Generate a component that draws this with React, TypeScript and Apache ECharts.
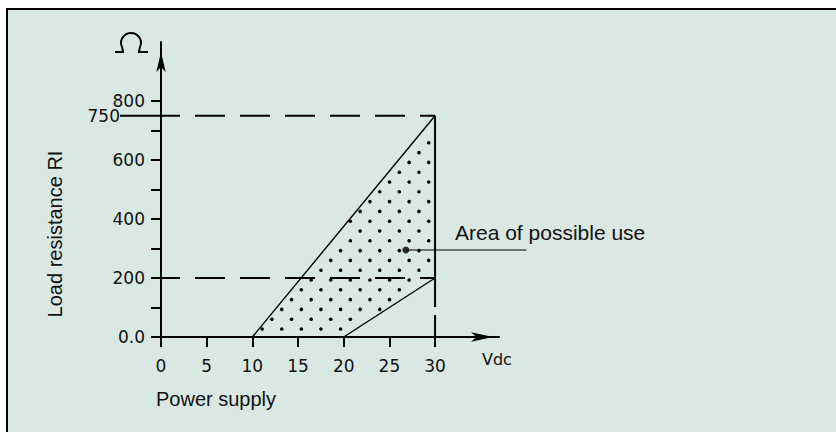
import { useEffect, useRef } from "react";
import * as echarts from "echarts";

// ---- data ----
const xTickValues = [0, 5, 10, 15, 20, 25, 30];
const yTickValues = [0, 100, 200, 300, 400, 500, 600, 700, 800];
const yLabelValues = [0, 200, 400, 600, 800];
const upperX = [10, 30];
const upperY = [0, 750];
const lowerX = [20, 30];
const lowerY = [0, 200];
const regionX = [10, 30, 30, 20];
const regionY = [0, 750, 200, 0];
const limitHigh = 750;
const limitLow = 200;
const supplyMax = 30;
const pointerX = [26.8, 40];
const pointerY = [295, 295];
const highLabel = "750";

const NUM_FONT = "DejaVu Sans";
const TXT_FONT = "Liberation Sans";

function insidePoly(x: number, y: number, pts: number[][]) {
  let c = false;
  for (let i = 0, j = pts.length - 1; i < pts.length; j = i++) {
    const [xi, yi] = pts[i];
    const [xj, yj] = pts[j];
    if (yi > y !== yj > y && x < ((xj - xi) * (y - yi)) / (yj - yi) + xi) c = !c;
  }
  return c;
}
function edgeDist(x: number, y: number, pts: number[][]) {
  let d = Infinity;
  for (let i = 0; i < pts.length; i++) {
    const a = pts[i];
    const b = pts[(i + 1) % pts.length];
    const dx = b[0] - a[0];
    const dy = b[1] - a[1];
    const l2 = dx * dx + dy * dy;
    let t = l2 ? ((x - a[0]) * dx + (y - a[1]) * dy) / l2 : 0;
    t = Math.max(0, Math.min(1, t));
    const px = a[0] + t * dx - x;
    const py = a[1] + t * dy - y;
    d = Math.min(d, Math.sqrt(px * px + py * py));
  }
  return d;
}

export default function App() {
  const ref = useRef<HTMLDivElement>(null);
  useEffect(() => {
    if (!ref.current) return;
    const chart = echarts.init(ref.current, undefined, { renderer: "svg" });
    const lineBlack = (w: number, type: any = "solid", dashOffset = 0) => ({
      color: "#000",
      width: w,
      type,
      dashOffset,
    });
    const seg = (xs: number[], ys: number[], style: any, extra: any = {}) => ({
      type: "line",
      data: xs.map((x, i) => [x, ys[i]]),
      symbol: "none",
      lineStyle: style,
      silent: true,
      z: 3,
      ...extra,
    });
    chart.setOption({
      animation: false,
      backgroundColor: "transparent",
      grid: { left: 161, right: 337, top: 42, bottom: 95, outerBoundsMode: "none" },
      xAxis: {
        type: "value",
        min: 0,
        max: 37,
        interval: 5,
        axisLine: {
          show: true,
          lineStyle: { color: "#000", width: 2 },
          symbol: ["none", "arrow"],
          symbolSize: [7, 22],
          symbolOffset: [0, -6],
        },
        axisTick: {
          show: true,
          length: 10,
          lineStyle: { color: "#000", width: 2 },
          customValues: xTickValues,
        },
        axisLabel: {
          customValues: xTickValues,
          color: "#111",
          fontFamily: NUM_FONT,
          fontSize: 17,
          margin: 20,
        },
        splitLine: { show: false },
      },
      yAxis: {
        type: "value",
        min: 0,
        max: 1000,
        interval: 100,
        axisLine: {
          show: true,
          lineStyle: { color: "#000", width: 2 },
          symbol: ["none", "arrow"],
          symbolSize: [7, 20],
          symbolOffset: [0, -10],
        },
        axisTick: {
          show: true,
          length: 10,
          lineStyle: { color: "#000", width: 2 },
          customValues: yTickValues,
        },
        axisLabel: {
          customValues: yLabelValues,
          formatter: (v: number) => (v === 0 ? "0.0" : String(v)),
          color: "#111",
          fontFamily: NUM_FONT,
          fontSize: 17,
          margin: 16,
        },
        splitLine: { show: false },
      },
      series: [
        {
          type: "custom",
          data: [[0, 0]],
          silent: true,
          z: 2,
          renderItem: (_p: any, api: any) => {
            const pts = regionX.map((x, i) => api.coord([x, regionY[i]]));
            const base = pts[0];
            const xs = pts.map((p: number[]) => p[0]);
            const ys = pts.map((p: number[]) => p[1]);
            const minX = Math.min(...xs);
            const maxX = Math.max(...xs);
            const minY = Math.min(...ys);
            const children: any[] = [];
            for (let k = 0; k < 200; k++) {
              const y = base[1] - 8 - 9.8 * k;
              if (y < minY) break;
              const off = base[0] + 9.8 + (k % 2) * 9.8;
              for (let j = -30; j < 60; j++) {
                const x = off + 19.6 * j;
                if (x < minX || x > maxX) continue;
                if (insidePoly(x, y, pts) && edgeDist(x, y, pts) > 1.8) {
                  children.push({
                    type: "circle",
                    shape: { cx: x, cy: y, r: 1.8 },
                    style: { fill: "#000" },
                  });
                }
              }
            }
            return { type: "group", children };
          },
        },
        seg([0, supplyMax], [limitHigh, limitHigh], lineBlack(2, [30, 15], 11)),
        seg([0, supplyMax], [limitLow, limitLow], lineBlack(2, [30, 15], 11)),
        seg([supplyMax, supplyMax], [limitHigh, limitLow], lineBlack(2)),
        seg([supplyMax, supplyMax], [limitLow, 0], lineBlack(2, [29, 8])),
        seg(upperX, upperY, lineBlack(1.4)),
        seg(lowerX, lowerY, lineBlack(1.4)),
        {
          type: "scatter",
          data: [[pointerX[0], pointerY[0]]],
          symbol: "circle",
          symbolSize: 7,
          itemStyle: { color: "#000" },
          silent: true,
          z: 4,
        },
      ],
    });

    const toPx = (p: number[]) =>
      chart.convertToPixel({ xAxisIndex: 0, yAxisIndex: 0 }, p) as number[];
    const p750 = toPx([0, limitHigh]);
    const pA = toPx([pointerX[0], pointerY[0]]);
    const pB = toPx([pointerX[1], pointerY[1]]);
    // Ohm symbol geometry (centre near top of the y axis)
    const oc = [131, 43];
    chart.setOption({
      graphic: [
        {
          type: "line",
          shape: { x1: pA[0], y1: pA[1], x2: pB[0], y2: pB[1] },
          style: { stroke: "#000", lineWidth: 1.2 },
          silent: true,
        },
        {
          type: "line",
          shape: { x1: p750[0] - 41, y1: p750[1], x2: p750[0], y2: p750[1] },
          style: { stroke: "#000", lineWidth: 2 },
          silent: true,
        },
        {
          type: "text",
          x: p750[0] - 41,
          y: p750[1],
          style: {
            text: highLabel,
            fill: "#111",
            font: `17px "${NUM_FONT}"`,
            align: "right",
            verticalAlign: "middle",
          },
          silent: true,
        },
        {
          type: "arc",
          shape: { cx: oc[0], cy: oc[1], r: 10, startAngle: Math.PI * 0.92, endAngle: Math.PI * 2.08, clockwise: true },
          style: { stroke: "#000", lineWidth: 2, fill: "none" },
          silent: true,
        },
        {
          type: "polyline",
          shape: { points: [[oc[0] - 9.3, oc[1] + 2.5], [oc[0] - 8, oc[1] + 8.5]] },
          style: { stroke: "#000", lineWidth: 2, fill: "none" },
          silent: true,
        },
        {
          type: "polyline",
          shape: { points: [[oc[0] + 9.3, oc[1] + 2.5], [oc[0] + 8, oc[1] + 8.5]] },
          style: { stroke: "#000", lineWidth: 2, fill: "none" },
          silent: true,
        },
        {
          type: "line",
          shape: { x1: oc[0] - 16, y1: oc[1] + 9, x2: oc[0] - 7, y2: oc[1] + 9 },
          style: { stroke: "#000", lineWidth: 2 },
          silent: true,
        },
        {
          type: "line",
          shape: { x1: oc[0] + 7, y1: oc[1] + 9, x2: oc[0] + 17, y2: oc[1] + 9 },
          style: { stroke: "#000", lineWidth: 2 },
          silent: true,
        },
        {
          type: "text",
          x: 55,
          y: 234,
          rotation: Math.PI / 2,
          style: {
            text: "Load resistance RI",
            fill: "#111",
            font: `20px "${TXT_FONT}"`,
            align: "center",
            verticalAlign: "middle",
          },
          silent: true,
        },
        {
          type: "text",
          x: 156,
          y: 399,
          style: {
            text: "Power supply",
            fill: "#111",
            font: `20px "${TXT_FONT}"`,
            align: "left",
            verticalAlign: "middle",
          },
          silent: true,
        },
        {
          type: "text",
          x: 482,
          y: 359,
          style: {
            text: "Vdc",
            fill: "#111",
            font: `16px "${NUM_FONT}"`,
            align: "left",
            verticalAlign: "middle",
          },
          silent: true,
        },
        {
          type: "text",
          x: 455,
          y: 232,
          style: {
            text: "Area of possible use",
            fill: "#111",
            font: `21px "${TXT_FONT}"`,
            align: "left",
            verticalAlign: "middle",
          },
          silent: true,
        },
      ],
    });
    return () => chart.dispose();
  }, []);

  return (
    <div style={{ position: "absolute", left: 0, top: 0, width: 836, height: 432, background: "#fff", overflow: "hidden" }}>
      <div
        style={{
          position: "absolute",
          left: 6,
          top: 8,
          width: 840,
          height: 440,
          background: "#d9e8e2",
          borderLeft: "2px solid #000",
          borderTop: "2px solid #000",
        }}
      />
      <div ref={ref} style={{ position: "absolute", left: 0, top: 0, width: 836, height: 432 }} />
    </div>
  );
}
